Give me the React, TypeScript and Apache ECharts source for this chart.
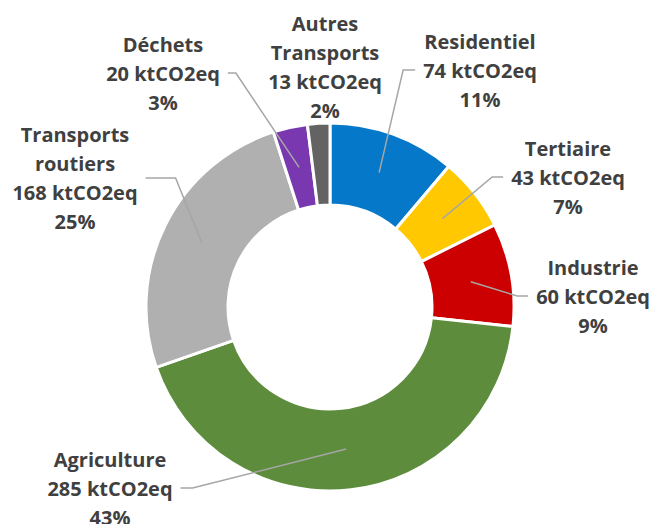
import React, { useEffect, useRef } from "react";
import * as echarts from "echarts";

const categories = [
  "Residentiel",
  "Tertiaire",
  "Industrie",
  "Agriculture",
  "Transports\nroutiers",
  "Déchets",
  "Autres\nTransports",
];
const values = [74, 43, 60, 285, 168, 20, 13];
const unit = "ktCO2eq";
const colors = ["#0678CA", "#FFC800", "#CC0000", "#5C8C3C", "#B0B0B0", "#7A38B0", "#636363"];

// label layout (positions of label blocks, not data)
const labelLayoutSpec = [
  { x: 480, y: 70, elbow: 12, side: "left" },
  { x: 568, y: 177, elbow: 11, side: "left" },
  { x: 593, y: 296, elbow: 11, side: "left" },
  { x: 110, y: 488, elbow: 12, side: "right" },
  { x: 75, y: 178, elbow: 30, side: "right" },
  { x: 163, y: 73, elbow: 8, side: "right" },
  { x: 325, y: 67, elbow: 0, side: "none" },
];

const CX = 330;
const CY = 307;
const R_IN = 102;
const R_OUT = 184;

export default function App() {
  const ref = useRef<HTMLDivElement>(null);
  useEffect(() => {
    if (!ref.current) return;
    const chart = echarts.init(ref.current, undefined, { renderer: "svg" });
    const total = values.reduce((a, b) => a + b, 0);
    const cum: number[] = [];
    let acc = 0;
    values.forEach((v) => {
      cum.push(acc);
      acc += v;
    });
    const midR = (R_IN + R_OUT) / 2;
    const base = {
      type: "pie",
      center: [CX, CY],
      radius: [R_IN, R_OUT],
      startAngle: 90,
      clockwise: true,
      percentPrecision: 0,
      avoidLabelOverlap: false,
      silent: true,
    };
    chart.setOption({
      animation: false,
      backgroundColor: "#ffffff",
      series: [
        {
          ...base,
          z: 2,
          itemStyle: { borderColor: "#ffffff", borderWidth: 3 },
          label: { show: false },
          labelLine: { show: false },
          data: categories.map((name, i) => ({
            name,
            value: values[i],
            itemStyle: { color: colors[i] },
          })),
        },
        {
          ...base,
          z: 5,
          itemStyle: { color: "rgba(0,0,0,0)", borderWidth: 0 },
          label: {
            show: true,
            formatter: "{b}\n{c} " + unit + "\n{d}%",
            fontFamily: "Open Sans",
            fontWeight: "bold",
            fontSize: 20,
            lineHeight: 29,
            color: "#404040",
            align: "center",
          },
          labelLine: {
            show: true,
            length: 10,
            length2: 10,
            lineStyle: { color: "#A6A6A6", width: 1.5 },
          },
          labelLayout: (params: any) => {
            const i = params.dataIndex;
            const p = labelLayoutSpec[i];
            const r = params.labelRect;
            const res: any = { x: p.x, y: p.y, align: "center", verticalAlign: "middle" };
            if (p.side !== "none") {
              const ang = ((90 - (360 * (cum[i] + values[i] / 2)) / total) * Math.PI) / 180;
              const start = [CX + midR * Math.cos(ang), CY - midR * Math.sin(ang)];
              const gap = 8;
              const endX = p.side === "left" ? p.x - r.width / 2 - gap : p.x + r.width / 2 + gap;
              const elbowX = p.side === "left" ? endX - p.elbow : endX + p.elbow;
              res.labelLinePoints = [start, [elbowX, p.y], [endX, p.y]];
            }
            return res;
          },
          data: categories.map((name, i) => ({
            name,
            value: values[i],
            labelLine: { show: labelLayoutSpec[i].side !== "none" },
          })),
        },
      ],
    });
    return () => chart.dispose();
  }, []);
  return (
    <div
      ref={ref}
      style={{ width: 652, height: 524, position: "fixed", left: 0, top: 0 }}
    />
  );
}
